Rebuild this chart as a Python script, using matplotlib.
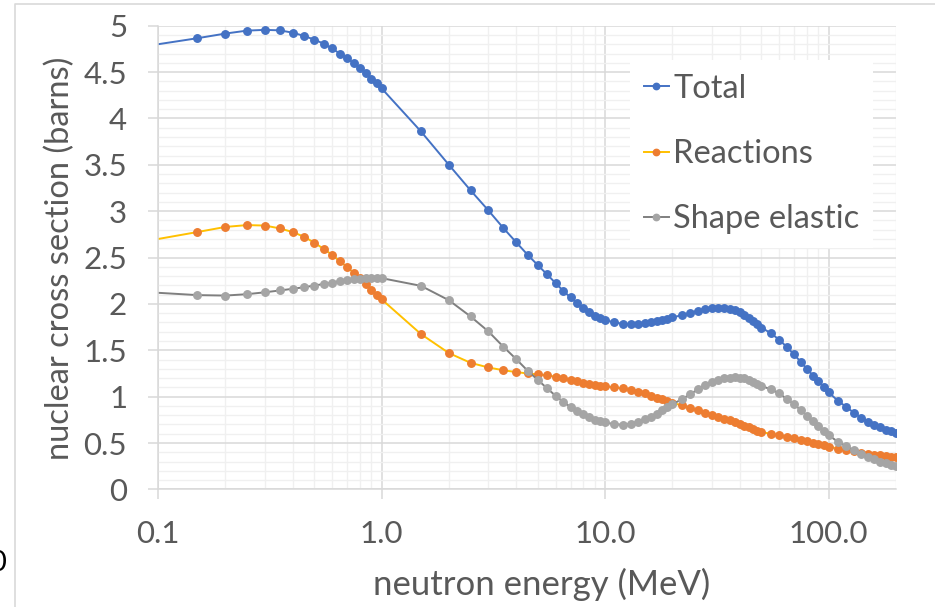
import matplotlib
matplotlib.use("Agg")
import matplotlib.pyplot as plt
from matplotlib.ticker import MultipleLocator, LogLocator, FixedLocator, FixedFormatter, NullFormatter
from matplotlib.lines import Line2D

plt.rcParams['font.family'] = ['Lato', 'DejaVu Sans']

energy = [0.1, 0.15, 0.2, 0.25, 0.3, 0.35, 0.4, 0.45, 0.5, 0.55, 0.6, 0.65, 0.7, 0.75, 0.8, 0.85, 0.9, 0.95, 1.0,
          1.5, 2, 2.5, 3, 3.5, 4, 4.5, 5, 5.5, 6, 6.5, 7, 7.5, 8, 8.5, 9, 9.5, 10,
          11, 12, 13, 14, 15, 16, 17, 18, 19, 20,
          22, 24, 26, 28, 30, 32, 34, 36, 38, 40, 42, 44, 46, 48, 50,
          55, 60, 65, 70, 75, 80, 85, 90, 95, 100,
          110, 120, 130, 140, 150, 160, 170, 180, 190, 200]

total = [4.80, 4.865, 4.915, 4.947, 4.955, 4.95, 4.925, 4.89, 4.85, 4.807, 4.755, 4.70, 4.65, 4.597, 4.54, 4.485, 4.43, 4.377, 4.325,
         3.86, 3.50, 3.225, 3.01, 2.82, 2.665, 2.53, 2.418, 2.318, 2.225, 2.14, 2.07, 2.005, 1.955, 1.91, 1.872, 1.848, 1.826,
         1.80, 1.786, 1.783, 1.788, 1.795, 1.802, 1.812, 1.825, 1.84, 1.855,
         1.878, 1.902, 1.928, 1.945, 1.953, 1.955, 1.952, 1.944, 1.93, 1.908, 1.883, 1.851, 1.815, 1.78, 1.745,
         1.685, 1.615, 1.535, 1.455, 1.375, 1.298, 1.228, 1.165, 1.105, 1.045,
         0.956, 0.887, 0.825, 0.772, 0.73, 0.697, 0.668, 0.645, 0.626, 0.608]

reactions = [2.70, 2.775, 2.83, 2.85, 2.845, 2.815, 2.775, 2.725, 2.66, 2.595, 2.53, 2.46, 2.40, 2.335, 2.275, 2.215, 2.155, 2.10, 2.05,
             1.675, 1.47, 1.365, 1.315, 1.285, 1.265, 1.25, 1.24, 1.23, 1.215, 1.20, 1.18, 1.165, 1.15, 1.135, 1.125, 1.115, 1.11,
             1.10, 1.088, 1.072, 1.055, 1.037, 1.012, 0.99, 0.97, 0.952, 0.935,
             0.905, 0.878, 0.852, 0.828, 0.806, 0.784, 0.764, 0.744, 0.724, 0.705, 0.687, 0.669, 0.651, 0.634, 0.618,
             0.60, 0.585, 0.567, 0.55, 0.533, 0.518, 0.503, 0.489, 0.475, 0.46,
             0.44, 0.425, 0.41, 0.396, 0.385, 0.375, 0.367, 0.36, 0.352, 0.346]

shape_elastic = [2.12, 2.095, 2.09, 2.105, 2.125, 2.145, 2.163, 2.18, 2.198, 2.215, 2.23, 2.245, 2.255, 2.264, 2.27, 2.275, 2.278, 2.279, 2.278,
                 2.195, 2.04, 1.865, 1.705, 1.54, 1.405, 1.28, 1.18, 1.09, 1.01, 0.942, 0.89, 0.845, 0.808, 0.777, 0.75, 0.735, 0.722,
                 0.703, 0.697, 0.707, 0.728, 0.755, 0.784, 0.816, 0.852, 0.885, 0.917,
                 0.972, 1.025, 1.08, 1.125, 1.16, 1.182, 1.197, 1.206, 1.207, 1.203, 1.196, 1.182, 1.163, 1.14, 1.115,
                 1.08, 1.035, 0.975, 0.917, 0.856, 0.795, 0.737, 0.683, 0.63, 0.583,
                 0.514, 0.464, 0.421, 0.381, 0.35, 0.324, 0.30, 0.282, 0.267, 0.256]

series_names = ["Total", "Reactions", "Shape elastic"]
x_tick_values = [0.1, 1, 10, 100]
x_tick_labels = ["0.1", "1.0", "10.0", "100.0"]
y_tick_values = [0, 0.5, 1, 1.5, 2, 2.5, 3, 3.5, 4, 4.5, 5]
y_tick_labels = ["0", "0.5", "1", "1.5", "2", "2.5", "3", "3.5", "4", "4.5", "5"]
x_label = "neutron energy (MeV)"
y_label = "nuclear cross section (barns)"

W, H = 935, 607
fig = plt.figure(figsize=(W / 100, H / 100), dpi=100)
L, R, T, B = 158, 896, 25.7, 489.4
ax = fig.add_axes([L / W, 1 - B / H, (R - L) / W, (B - T) / H])

TXT = '#595959'
GRID = '#D9D9D9'
MINOR = '#F0F0F0'

mk = list(range(1, len(energy)))
styles = [
    dict(color='#4472C4', mfc='#4472C4', mec='#4472C4'),
    dict(color='#FFC000', mfc='#ED7D31', mec='#ED7D31'),
    dict(color='#7F7F7F', mfc='#A5A5A5', mec='#A5A5A5'),
]
for name, ys, st in zip(series_names, [total, reactions, shape_elastic], styles):
    ax.plot(energy, ys, '-', lw=1.4, marker='o', ms=5.4, markevery=mk,
            label=name, clip_on=True, **st)

ax.set_xscale('log')
ax.set_xlim(0.1, 200)
ax.set_ylim(0, 5)
ax.set_axisbelow(True)

ax.xaxis.set_major_locator(FixedLocator(x_tick_values))
ax.xaxis.set_major_formatter(FixedFormatter(x_tick_labels))
ax.xaxis.set_minor_locator(LogLocator(base=10, subs=[2, 3, 4, 5, 6, 7, 8, 9], numticks=20))
ax.xaxis.set_minor_formatter(NullFormatter())
ax.yaxis.set_major_locator(FixedLocator(y_tick_values))
ax.yaxis.set_major_formatter(FixedFormatter(y_tick_labels))
ax.yaxis.set_minor_locator(MultipleLocator(0.1))

ax.grid(which='major', color=GRID, lw=1.1)
ax.grid(which='minor', color=MINOR, lw=1.0)

for s in ['top', 'right']:
    ax.spines[s].set_visible(False)
for s in ['left', 'bottom']:
    ax.spines[s].set_color(GRID)
    ax.spines[s].set_linewidth(1.1)

ax.tick_params(which='major', direction='out', length=7.2, width=1.1, color=GRID,
               labelcolor=TXT, labelsize=22.5)
ax.tick_params(axis='y', which='major', pad=15)
ax.tick_params(axis='x', which='major', pad=15)
ax.tick_params(which='minor', length=0)

fig.text(542 / W, 1 - 584 / H, x_label, ha='center', va='center', fontsize=25, color=TXT)
fig.text(60 / W, 1 - 258 / H, y_label, ha='center', va='center', rotation=90, fontsize=23.5, color=TXT)

leg = ax.legend(loc='upper left', bbox_to_anchor=(630 / W, 1 - 60 / H), bbox_transform=fig.transFigure,
                frameon=True, fancybox=False, facecolor='white', edgecolor='none', framealpha=1,
                fontsize=23.5, labelcolor=TXT, handlelength=0.78, handletextpad=0.12,
                labelspacing=1.08, borderpad=0.42, borderaxespad=0, markerscale=0.85)

# outer chart border
fig.add_artist(Line2D([15 / W, 15 / W, 1.0], [0.0, 1 - 4 / H, 1 - 4 / H], transform=fig.transFigure,
                      color=GRID, lw=1.2))
# partially visible cell text at the far left
fig.text(6 / W, 1 - 563 / H, "0", ha='right', va='center', fontsize=21, color='black')

fig.savefig('out.png', dpi=100)
